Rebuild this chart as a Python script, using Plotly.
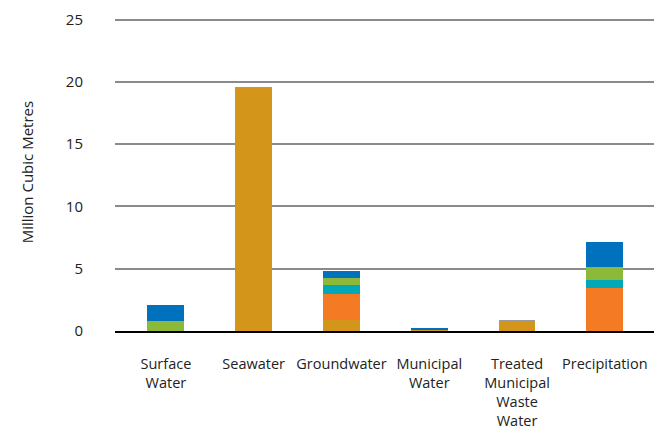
import plotly.graph_objects as go

categories = ["Surface<br>Water", "Seawater", "Groundwater", "Municipal<br>Water",
              "Treated<br>Municipal<br>Waste<br>Water", "Precipitation"]
y_title = "Million Cubic Metres"

series_a = [0.0, 19.55, 0.9, 0.16, 0.78, 0.0]   # gold
series_b = [0.0, 0.0, 2.08, 0.0, 0.0, 3.48]     # orange
series_c = [0.0, 0.0, 0.7, 0.0, 0.0, 0.61]      # teal
series_d = [0.8, 0.0, 0.58, 0.0, 0.0, 1.04]     # green
series_e = [1.28, 0.0, 0.53, 0.1, 0.0, 1.98]    # blue
series_f = [0.0, 0.0, 0.0, 0.0, 0.07, 0.0]      # grey

series = [
    ("Series A", series_a, "#D4961A"),
    ("Series B", series_b, "#F47A24"),
    ("Series C", series_c, "#00A8B8"),
    ("Series D", series_d, "#8DB93B"),
    ("Series E", series_e, "#0071BC"),
    ("Series F", series_f, "#9A9A9A"),
]

fig = go.Figure()
for name, vals, color in series:
    fig.add_trace(go.Bar(x=categories, y=vals, name=name, marker_color=color,
                         marker_line_width=0))

fig.update_layout(
    barmode="stack",
    bargap=0.58,
    width=654, height=429,
    margin=dict(l=115, r=0, t=17.5, b=98),
    plot_bgcolor="white", paper_bgcolor="white",
    showlegend=False,
    font=dict(family="Open Sans", size=14.5, color="#222222"),
    yaxis=dict(range=[0, 25.12], dtick=5, showgrid=True, gridcolor="#8a8a8a",
               gridwidth=1.5, zeroline=False, ticklabelstandoff=31,
               automargin=False, tickfont=dict(size=15)),
    xaxis=dict(showline=True, linecolor="black", linewidth=1.5,
               range=[-0.58, 5.56], automargin=False,
               ticklabelstandoff=19, tickfont=dict(size=14.5)),
    annotations=[dict(text=y_title, textangle=-90, xref="paper", yref="paper",
                      x=-0.1633, y=0.507, xanchor="center", yanchor="middle",
                      showarrow=False, font=dict(size=15, color="#222222"))],
)

fig.write_html("out.html", config={"displayModeBar": False},
               post_script="document.body.style.margin='0';document.body.style.overflow='hidden';")
